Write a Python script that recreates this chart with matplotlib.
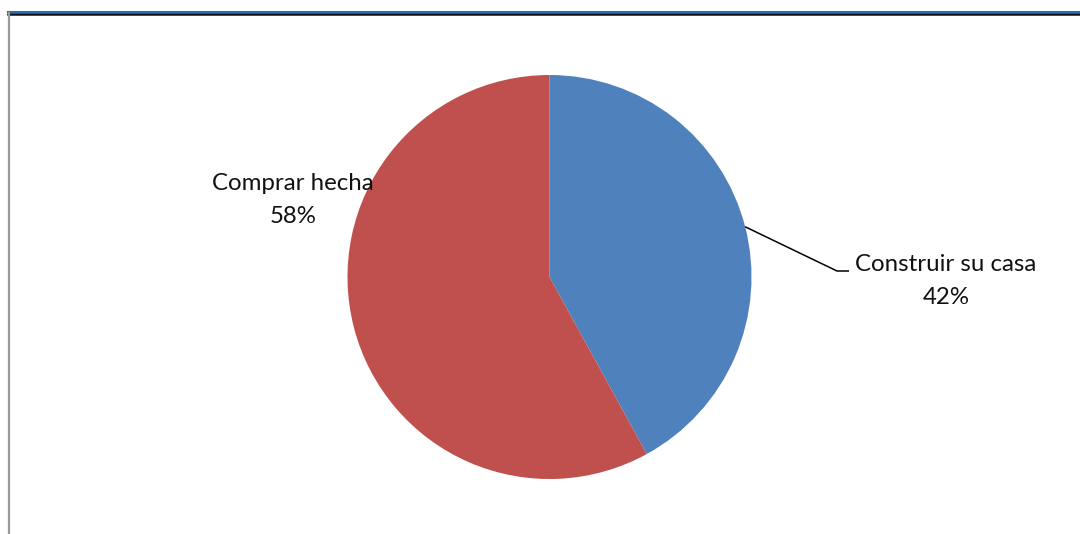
import numpy as np
import matplotlib
matplotlib.use("Agg")
import matplotlib.pyplot as plt
from matplotlib.lines import Line2D

# Share of households by housing choice
categories = ["Construir su casa", "Comprar hecha"]
shares = [42, 58]
colors = ["#4F81BD", "#C0504D"]

W, H = 1080, 534
fig = plt.figure(figsize=(W / 100, H / 100), dpi=100)
fig.patch.set_facecolor("white")
ax = fig.add_axes([0, 0, 1, 1])

cx, cy, r = 549.5, H - 277, 202
wedges, _ = ax.pie(shares, colors=colors, startangle=90, counterclock=False,
                   center=(cx, cy), radius=r, frame=True,
                   wedgeprops=dict(linewidth=0))
ax.set_xlim(0, W)
ax.set_ylim(0, H)
ax.set_aspect("equal")
ax.axis("off")

font = dict(family="Lato", fontsize=17.3, color="#111111", linespacing=1.72)

# Label for the red wedge, placed inside the upper-left area
ax.text(293, H - 200, f"{categories[1]}\n{shares[1]}%", ha="center", va="center", **font)

# Label for the blue wedge with a leader line from the wedge's mid-angle
w = wedges[0]
mid = np.deg2rad((w.theta1 + w.theta2) / 2)
x0, y0 = cx + r * np.cos(mid), cy + r * np.sin(mid)
elbow_x, elbow_y = 837, H - 271
ax.add_line(Line2D([x0, elbow_x, elbow_x + 12], [y0, elbow_y, elbow_y],
                   color="black", lw=1.1, solid_capstyle="butt"))
ax.text(946, H - 281, f"{categories[0]}\n{shares[0]}%", ha="center", va="center", **font)

# Chart-area frame: dark top rule and grey left edge
fig.add_artist(Line2D([8 / W, 1], [1 - 12 / H, 1 - 12 / H], transform=fig.transFigure,
                      color="#2E6DB4", lw=1.5))
fig.add_artist(Line2D([8 / W, 1], [1 - 14 / H, 1 - 14 / H], transform=fig.transFigure,
                      color="#111111", lw=1.8))
fig.add_artist(Line2D([8.5 / W, 8.5 / W], [0, 1 - 13 / H], transform=fig.transFigure,
                      color="#9A9A9A", lw=1.6))

fig.savefig("out.png", dpi=100, facecolor="white")
